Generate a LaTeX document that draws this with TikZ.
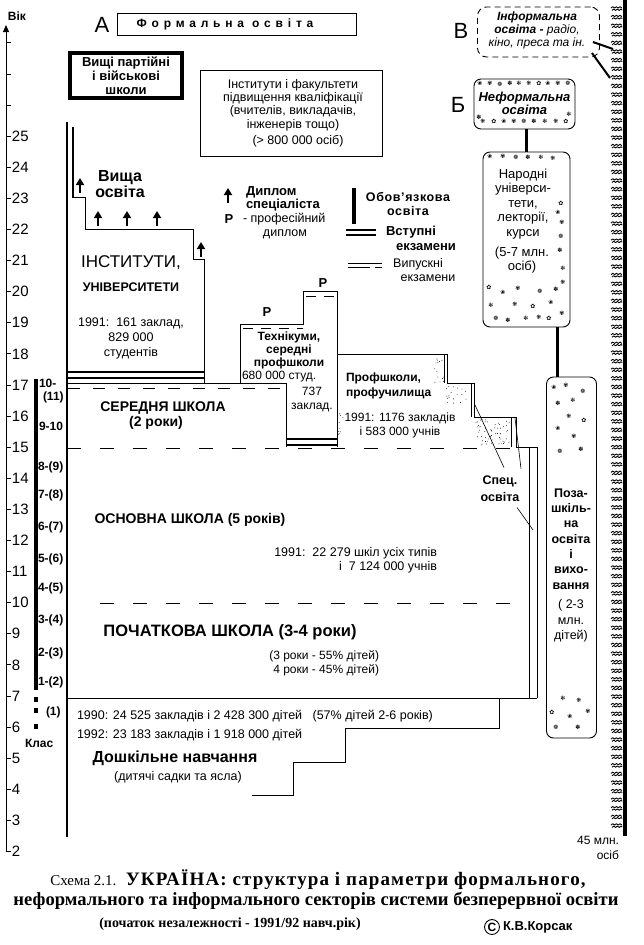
\documentclass[tikz,border=0pt]{standalone}
\usepackage{fontspec}
\setmainfont{Liberation Sans}
\newfontfamily\capfont{Liberation Serif}
\newfontfamily\dingfont{DejaVu Sans}
\usetikzlibrary{arrows.meta}
\newcommand\fs[2]{\fontsize{#1}{#2}\selectfont}
\newcommand\dgsym[1]{\pgfmathtruncatemacro\dgi{mod(#1,7)}\ifcase\dgi ✿\or ❀\or ✾\or ❁\or ✽\or ✻\or ❋\fi}
\tikzset{
  tx/.style={inner sep=0pt, outer sep=0pt, align=center},
  agelbl/.style={tx, anchor=west, font=\fs{15}{15}},
  cls/.style={tx, anchor=west, font=\bfseries\fs{12}{12}},
  thinline/.style={line width=0.9pt},
  exam2/.style={line width=2pt},
  updip/.style={-{Triangle[width=8pt,length=7pt]}, line width=2.3pt},
  rbox/.style={draw, line width=0.9pt, rounded corners=7pt, inner sep=0pt},
  dgs/.style={inner sep=0pt, font=\dingfont\fs{6}{6}},
  wavemark/.style={line width=0.9pt, line join=round},
  stip/.style={fill=black},
}
\begin{document}
\begin{tikzpicture}[x=1pt,y=-1pt]
\useasboundingbox (0,0) rectangle (644,945);
\fill[white] (0,0) rectangle (644,945);

% ---------- age axis
\draw[line width=1pt] (6,851.5) -- (6,34);
\draw[-{Triangle[width=6pt,length=7pt]}, line width=1pt] (6,40) -- (6,25);
\foreach \a in {2,...,28} \draw[line width=0.9pt] (6,{913.7-31.1*\a}) -- (11,{913.7-31.1*\a});
\foreach \a in {2,...,25} \node[agelbl] (age\a) at (12,{913.7-31.1*\a}) {\a};
\node[tx, font=\bfseries\fs{12}{12}] (vik) at (17,16) {Вік};

% ---------- class bar
\draw[line width=4.5pt] (36,379) -- (36,690);
\fill (33.8,697) rectangle (38.2,702);
\fill (33.8,708) rectangle (38.2,713);
\fill (33.8,724) rectangle (38.2,729);
\node[cls] (k10) at (39,383) {10-};
\node[cls] (k11) at (43,397) {(11)};
\node[cls] (k9) at (39,426) {9-10};
\node[cls] (k8) at (38,467) {8-(9)};
\node[cls] (k7) at (38,495) {7-(8)};
\node[cls] (k6) at (38,527) {6-(7)};
\node[cls] (k5) at (38,559) {5-(6)};
\node[cls] (k4) at (38,588) {4-(5)};
\node[cls] (k3) at (38,620) {3-(4)};
\node[cls] (k2) at (38,653) {2-(3)};
\node[cls] (k1) at (38,682) {1-(2)};
\node[cls] (k0) at (46,712) {(1)};
\node[cls] (klas) at (25,743) {Клас};

% ---------- main formal structure
\draw[line width=2.2pt] (67,122) -- (67,837);
\draw[line width=1.3pt] (73,127) -- (73,197);
\draw[thinline] (72.4,197) -- (85,197) -- (85,229) -- (193,229) -- (193,259) -- (204,259) -- (204,383);
\draw[exam2] (68,372) -- (204,372);
\draw[exam2] (68,377.5) -- (204,377.5);
% secondary school
\draw[thinline] (67,383) -- (286,383) -- (286,447);
\draw[thinline, dash pattern=on 12pt off 13pt] (68,388) -- (286,388);
% technical schools
\draw[thinline] (240,383) -- (240,324) -- (303,324) -- (303,291) -- (337,291) -- (337,447);
\draw[thinline, dash pattern=on 10pt off 8pt] (243,328) -- (303,328);
\draw[thinline, dash pattern=on 10pt off 8pt] (306,296) -- (337,296);
\draw[exam2] (286,439) -- (337,439);
\draw[exam2] (286,444.5) -- (337,444.5);
% vocational schools
\draw[thinline] (337,354) -- (447,354) -- (447,383) -- (474,383) -- (474,417) -- (516,417) -- (516,447) -- (537,447) -- (537,698);
\draw[thinline] (444,354) -- (444,383);
\draw[thinline] (471,383) -- (471,417);
\draw[thinline] (511,417) -- (511,447);
\draw[thinline] (529.5,447) -- (529.5,698);
% age lines
\draw[thinline, dash pattern=on 14pt off 19pt] (67,448) -- (529,448);
\draw[thinline, dash pattern=on 14pt off 19pt] (100,603) -- (529,603);
\draw[thinline] (67,698) -- (537,698);
% preschool
\draw[thinline] (499,698) -- (499,728) -- (345,728) -- (345,762) -- (293,762) -- (293,795) -- (252,795);

% diploma arrows
\foreach \x/\yb in {80/193, 98/226, 127/226, 157/226, 201/257, 228/203} \draw[updip] (\x,\yb) -- (\x,\yb-15);

% ---------- top boxes
\node[tx, font=\fs{22}{22}] (lA) at (102,25) {А};
\node[draw, thinline, minimum width=239pt, minimum height=22pt, inner sep=0pt] (formal) at (236.5,24) {};
\node[tx, font=\bfseries\fs{12}{12}\addfontfeatures{LetterSpace=40}] (formaltxt) at (225,24) {Формальна освіта};
\node[draw, line width=4pt, minimum width=112pt, minimum height=45pt, inner sep=0pt] (party) at (126,75.5) {};
\node[tx, font=\bfseries\fs{13}{14}] (partytxt) at (126,76) {Вищі партійні\\і військові\\школи};
\node[draw, thinline, minimum width=182pt, minimum height=86pt, inner sep=0pt] (qual) at (291,113) {};
\node[tx, font=\fs{12.5}{13.3}] (qualtxt) at (293,105) {Інститути і факультети\\підвищення кваліфікації\\(вчителів, викладачів,\\інженерів тощо)};
\node[tx, font=\fs{12.5}{12.5}] (qualn) at (298,141) {(> 800 000 осіб)};

% ---------- higher education texts
\node[tx, font=\bfseries\fs{16}{16}] (vyshcha) at (120,184) {Вища\\освіта};
\node[tx, font=\fs{17}{17}] (inst) at (131,263) {ІНСТИТУТИ,};
\node[tx, font=\bfseries\fs{12.5}{12.5}] (univ) at (131,287) {УНІВЕРСИТЕТИ};
\node[tx, font=\fs{12.5}{15}] (inststat) at (131,338) {1991:\ \ 161 заклад,\\829 000\\студентів};

% ---------- legend
\node[tx, anchor=west, align=left, font=\bfseries\fs{13}{13}] (dipl) at (246,198.5) {Диплом\\спеціаліста};
\node[tx, font=\bfseries\fs{13}{13}] (legP) at (229,219) {Р};
\node[tx, anchor=west, font=\fs{12.5}{12.5}] (legPt) at (243,219) {- професійний};
\node[tx, font=\fs{12.5}{12.5}] (legPt2) at (285,234) {диплом};
\draw[line width=4pt] (354,188) -- (354,224);
\node[tx, font=\bfseries\fs{12.5}{14}\addfontfeatures{LetterSpace=5}] (oblig) at (408,204) {Обов'язкова\\освіта};
\draw[exam2] (346,230) -- (376,230);
\draw[exam2] (346,234.5) -- (376,234.5);
\node[tx, font=\bfseries\fs{13}{13}] (vstup) at (411,232) {Вступні};
\node[tx, font=\bfseries\fs{13}{13}] (vstup2) at (426,247) {екзамени};
\draw[thinline] (348,263) -- (382,263);
\draw[thinline, dash pattern=on 22pt off 5pt] (348,267.5) -- (382,267.5);
\node[tx, font=\fs{12.5}{12.5}] (vyp) at (418,264) {Випускні};
\node[tx, font=\fs{12.5}{12.5}] (vyp2) at (428,278) {екзамени};

% ---------- technical / vocational texts
\node[tx, font=\bfseries\fs{13}{13}] (P1) at (267,312) {Р};
\node[tx, font=\bfseries\fs{13}{13}] (P2) at (323,283) {Р};
\node[tx, font=\bfseries\fs{12}{13}] (tech) at (289,350) {Технікуми,\\середні\\профшколи};
\node[tx, anchor=west, font=\fs{12}{12}] (techst) at (242,377) {680 000 студ.};
\node[tx, font=\fs{12}{13.5}] (techn) at (312,399.5) {737\\заклад.};
\node[tx, anchor=west, align=left, font=\bfseries\fs{12}{15}] (prof) at (346,385.5) {Профшколи,\\профучилища};
\node[tx, font=\fs{12}{14}] (profst) at (400,425) {1991: 1176 закладів\\і 583 000 учнів};
\node[tx, font=\bfseries\fs{12.5}{17}] (spec) at (500,488.5) {Спец.\\освіта};
\coordinate (sp1) at (475,405);
\coordinate (sp2) at (515,418);
\coordinate (sp3) at (533,530);
\draw[line width=0.6pt] ([shift={(4,-8)}]spec.north) -- (sp1);
\draw[line width=0.6pt] ([shift={(21,-7)}]spec.north) -- (sp2);
\draw[line width=0.6pt] ([shift={(17,6)}]spec.south) -- (sp3);

% stipple
\pgfmathsetseed{7}
\foreach \i in {1,...,14} \fill[stip] ({433+11*rnd},{356+27*rnd}) circle (0.45);
\foreach \i in {1,...,18} \fill[stip] ({446+22*rnd},{386+18*rnd}) circle (0.45);
\foreach \i in {1,...,60} \fill[stip] ({476+34*rnd},{419+26*rnd}) circle (0.45);
\foreach \i in {1,...,9} \fill[stip] ({338+8*rnd},{412+26*rnd}) circle (0.45);

% ---------- school texts
\node[tx, font=\bfseries\fs{14}{14}] (sered) at (163,408) {СЕРЕДНЯ ШКОЛА};
\node[tx, font=\bfseries\fs{14}{14}] (sered2) at (156,423) {(2 роки)};
\node[tx, font=\bfseries\fs{14}{14}] (osn) at (190,520) {ОСНОВНА ШКОЛА (5 років)};
\node[tx, anchor=east, align=right, font=\fs{12.5}{14}] (osnst) at (437,560) {1991:\ \ 22 279 шкіл усіх типів\\і\ \ 7 124 000 учнів};
\node[tx, font=\bfseries\fs{16.5}{16.5}] (poch) at (230,632) {ПОЧАТКОВА ШКОЛА (3-4 роки)};
\node[tx, anchor=east, align=right, font=\fs{12}{14}] (pochst) at (379,663) {(3 роки - 55\% дітей)\\4 роки - 45\% дітей)};
\node[tx, anchor=west, font=\fs{12.5}{12.5}] (pre90) at (77,716) {1990: 24 525 закладів і 2 428 300 дітей\ \ \ (57\% дітей 2-6 років)};
\node[tx, anchor=west, font=\fs{12.5}{12.5}] (pre92) at (77,735) {1992: 23 183 закладів і 1 918 000 дітей};
\node[tx, font=\bfseries\fs{16}{16}] (dosh) at (175,758) {Дошкільне навчання};
\node[tx, font=\fs{12.5}{12.5}] (dosh2) at (178,777) {(дитячі садки та ясла)};

% ---------- informal (В)
\node[tx, font=\fs{22}{22}] (lV) at (461,31) {В};
\node[draw, thinline, dash pattern=on 6pt off 4pt, rounded corners=9pt, minimum width=122pt, minimum height=50pt, inner sep=0pt] (inf) at (538.5,32) {};
\node[tx, font=\fs{12}{13.2}] (inftxt) at (537,30.5) {{\bfseries\itshape Інформальна}\\{\bfseries\itshape освіта -} {\itshape радіо,}\\{\itshape кіно, преса та ін.}};
\draw[line width=4.5pt] (625,0) -- (625,836);
\foreach \y in {8,16.6,...,830} {
  \draw[wavemark] (611,\y) -- ++(1.8,-1.3) -- ++(1.8,1.3) -- ++(1.8,-1.3) -- ++(1.8,1.3) -- ++(1.8,-1.3) -- ++(1.8,1.3);
  \draw[wavemark] (612,\y+2.4) -- ++(1.8,-1.3) -- ++(1.8,1.3) -- ++(1.8,-1.3) -- ++(1.8,1.3) -- ++(1.8,-1.3) -- ++(1.2,0.9);
}
\coordinate (bar1) at (613,49);
\coordinate (bar2) at (610,78);
\draw[line width=2pt] ([shift={(-7,10)}]inf.east) -- (bar1);
\draw[line width=2pt] ([shift={(-8,21)}]inf.east) -- (bar2);
\node[tx, anchor=east, align=right, font=\fs{12}{15}] (pop) at (619,848) {45 млн.\\осіб};

% ---------- nonformal (Б)
\node[tx, font=\fs{22}{22}] (lB) at (458,105) {Б};
\node[rbox, minimum width=101pt, minimum height=50pt] (nonf) at (524.5,104) {};
\node[tx, font=\bfseries\itshape\fs{13}{13}] (nonftxt) at (524.5,103) {Неформальна\\освіта};
\node[rbox, minimum width=87pt, minimum height=175pt] (narod) at (526.5,239.5) {};
\node[tx, font=\fs{13}{14.5}] (narodtxt) at (523,204) {Народні\\універси-\\тети,\\лекторії,\\курси};
\node[tx, font=\fs{13}{14}] (narodn) at (522,260) {(5-7 млн.\\осіб)};
\draw[line width=3pt] (narod.north |- nonf.south) -- (narod.north);
\node[rbox, minimum width=50pt, minimum height=361pt] (poza) at (571.5,557.5) {};
\node[tx, font=\bfseries\fs{12.5}{15.3}] (pozatxt) at (571,539) {Поза-\\шкіль-\\на\\освіта\\і\\вихо-\\вання};
\node[tx, font=\fs{12.5}{15.5}] (pozan) at (571,621) {( 2-3\\млн.\\дітей)};
\path (narod.south) ++(31,0) coordinate (c2);
\draw[line width=3pt] (c2) -- (c2 |- poza.north);

% decorations
\foreach \x/\y [count=\i] in {480/83,490/83,500/84,510/83,519/83,529/83,539/83,548/83,558/83,568/83,479/117,569/114,483/121,494/121,504/121,514/121,524/121,534/121,545/121,556/121,566/121}
  \node[dgs] (dn\i) at (\x,\y) {\dgsym{\i}};
\foreach \x/\y [count=\i] in {490/156,503/156,516/157,528/157,541/157,553/158,561/203,558/212,562/222,561/236,560/250,563/268,563/282,489/287,503/292,518/288,540/291,556/289,491/305,515/304,533/306,551/302,562/313,496/318,508/320,526/318,539/317,549/318}
  \node[dgs] (dr\i) at (\x,\y) {\dgsym{\i}};
\foreach \x/\y [count=\i] in {554/387,566/385,583/391,558/403,573/400,569/416,584/420,558/428,574/436,560/451,581/449,563/698,579/700,552/712,570/716,588/711,556/727,578/727}
  \node[dgs] (dp\i) at (\x,\y) {\dgsym{\i}};

% ---------- caption
\node[tx, font=\capfont\bfseries\fs{19}{19}] (capA) at (318,880) {{\mdseries\fs{15}{19}Схема 2.1.}\ \ {\addfontfeatures{LetterSpace=6}УКРАЇНА: структура і параметри формального,}};
\node[tx, font=\capfont\bfseries\fs{18.6}{19}] (capB) at (316,901) {неформального та інформального секторів системи безперервної освіти};
\node[tx, font=\capfont\bfseries\fs{14}{14}] (cap2) at (230,924) {(початок незалежності - 1991/92 навч.рік)};
\node[draw, circle, line width=0.9pt, inner sep=1pt, font=\bfseries\fs{12}{12}] (copyc) at (492,927) {C};
\node[tx, anchor=west, font=\bfseries\fs{13}{13}] (auth) at (503,927) {К.В.Корсак};
\end{tikzpicture}
\end{document}
